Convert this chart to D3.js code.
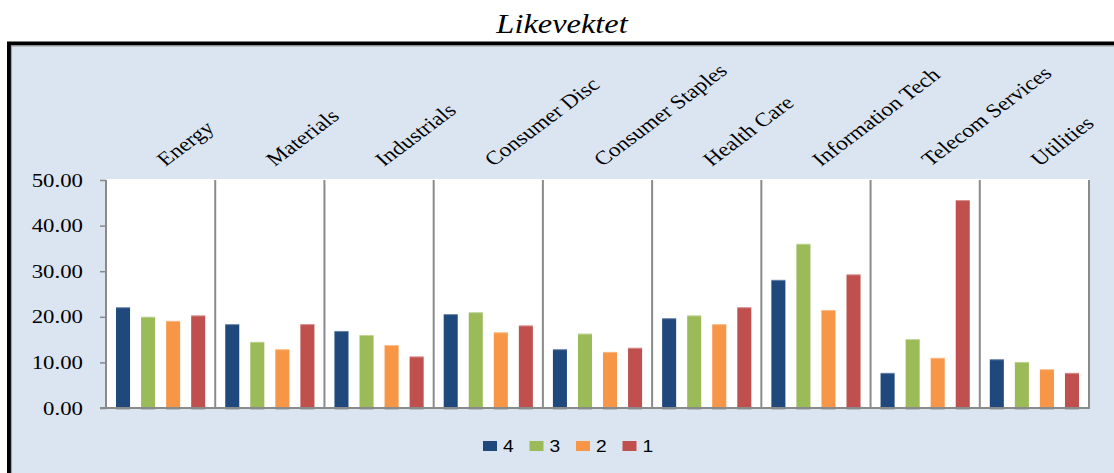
<!DOCTYPE html>
<html>
<head>
<meta charset="utf-8">
<script src="https://cdn.jsdelivr.net/npm/d3@7"></script>
<style>
  html, body { margin: 0; padding: 0; background: #ffffff; }
  svg { display: block; }
</style>
</head>
<body>
<svg id="chart" width="1114" height="473"></svg>
<script>
// Sector groups along the x axis
const categories = ["Energy", "Materials", "Industrials", "Consumer Disc", "Consumer Staples",
                    "Health Care", "Information Tech", "Telecom Services", "Utilities"];
// Series names, in legend order
const seriesNames = ["4", "3", "2", "1"];
const seriesColors = ["#1F497D", "#9BBB59", "#F79646", "#C0504D"];
// Values per series, one per sector
const series4 = [22.1, 18.4, 16.9, 20.6, 12.9, 19.7, 28.1, 7.7, 10.7];
const series3 = [20.0, 14.5, 16.0, 21.0, 16.3, 20.3, 36.0, 15.1, 10.1];
const series2 = [19.1, 12.9, 13.8, 16.6, 12.3, 18.4, 21.5, 11.0, 8.5];
const series1 = [20.3, 18.4, 11.3, 18.1, 13.2, 22.1, 29.3, 45.6, 7.7];
const yTicks = [0, 10, 20, 30, 40, 50];
const title = "Likevektet";

const seriesValues = [series4, series3, series2, series1];
const rows = categories.map((c, i) => ({
  category: c,
  values: seriesNames.map((s, k) => ({ key: s, color: seriesColors[k], value: seriesValues[k][i] }))
}));

const svg = d3.select("#chart");
const sx = 1.2; // horizontal stretch applied to text

// Outer frame and panel background
svg.append("rect").attr("x", 9).attr("y", 43.5).attr("width", 1130).attr("height", 460)
  .attr("fill", "#DBE5F1").attr("stroke", "#000").attr("stroke-width", 4);
svg.append("rect").attr("x", 11.5).attr("y", 46).attr("width", 1125).attr("height", 455)
  .attr("fill", "none").attr("stroke", "#A6A6A6").attr("stroke-width", 1.2);

// Title
svg.append("text")
  .attr("transform", `translate(562,33) scale(${sx},1)`)
  .attr("text-anchor", "middle")
  .style("font-family", "'Liberation Serif','Times New Roman',serif")
  .style("font-style", "italic")
  .style("font-size", "27px")
  .attr("fill", "#000")
  .text(title);

const plot = { left: 106, right: 1089, top: 180, bottom: 408 };

const x0 = d3.scaleBand().domain(categories).range([plot.left, plot.right]).padding(0);
const x1 = d3.scaleBand().domain(seriesNames).range([0, x0.bandwidth()])
  .paddingInner(0.44).paddingOuter(0.4);
const y = d3.scaleLinear().domain([0, 50]).range([plot.bottom, plot.top]);

// Plot area
svg.append("rect").attr("x", plot.left).attr("y", plot.top - 1)
  .attr("width", plot.right - plot.left).attr("height", plot.bottom - plot.top + 1)
  .attr("fill", "#ffffff");

// Bars
const groups = svg.append("g").selectAll("g").data(rows).join("g")
  .attr("transform", d => `translate(${x0(d.category)},0)`);

groups.selectAll("rect.shadow").data(d => d.values).join("rect")
  .attr("class", "shadow")
  .attr("x", d => x1(d.key)).attr("y", plot.bottom - 2)
  .attr("width", x1.bandwidth()).attr("height", 4)
  .attr("fill", "#8c8c9c").attr("opacity", 0.45);

groups.selectAll("rect.bar").data(d => d.values).join("rect")
  .attr("class", "bar")
  .attr("x", d => x1(d.key)).attr("y", d => y(d.value))
  .attr("width", x1.bandwidth()).attr("height", d => y(0) - y(d.value))
  .attr("fill", d => d.color);

groups.selectAll("line.hl").data(d => d.values).join("line")
  .attr("class", "hl")
  .attr("x1", d => x1(d.key)).attr("x2", d => x1(d.key) + x1.bandwidth())
  .attr("y1", d => y(d.value) + 0.5).attr("y2", d => y(d.value) + 0.5)
  .attr("stroke", "#ffffff").attr("stroke-opacity", 0.35).attr("stroke-width", 1);

// Category separators
const seps = categories.map(c => x0(c)).concat([plot.right]);
svg.append("g").selectAll("line").data(seps).join("line")
  .attr("x1", d => d).attr("x2", d => d)
  .attr("y1", plot.top).attr("y2", plot.bottom)
  .attr("stroke", "#8A8A8A").attr("stroke-width", 2);

// Y axis
const yAxis = d3.axisLeft(y).tickValues(yTicks).tickFormat(d3.format(".2f"))
  .tickSize(6).tickSizeOuter(0).tickPadding(0);
const yg = svg.append("g").attr("transform", `translate(${plot.left},0)`).call(yAxis);
yg.select(".domain").remove();
yg.selectAll(".tick line").attr("stroke", "#8A8A8A").attr("stroke-width", 1.5);
yg.selectAll(".tick text").attr("x", 0).attr("dy", 0)
  .attr("text-anchor", "end")
  .attr("transform", `translate(-23,6) scale(${sx},1)`)
  .style("font-family", "'Liberation Serif','Times New Roman',serif")
  .style("font-size", "19px")
  .attr("fill", "#000");

// Baseline
svg.append("line").attr("x1", plot.left - 6).attr("x2", plot.right + 1)
  .attr("y1", plot.bottom).attr("y2", plot.bottom)
  .attr("stroke", "#8A8A8A").attr("stroke-width", 2);

// Rotated category labels above the plot
svg.append("g").selectAll("text").data(categories).join("text")
  .attr("transform", d => `translate(${x0(d) + x0.bandwidth() / 2 + 5},167) scale(${sx},1) rotate(-42)`)
  .style("font-family", "'Liberation Serif','Times New Roman',serif")
  .style("font-size", "19.5px")
  .attr("fill", "#000")
  .text(d => d);

// Legend
const legend = svg.append("g").attr("transform", "translate(483,441)");
const li = legend.selectAll("g").data(seriesNames).join("g")
  .attr("transform", (d, i) => `translate(${i * 46.5},0)`);
li.append("rect").attr("width", 14).attr("height", 10)
  .attr("fill", (d, i) => seriesColors[i]);
li.append("text")
  .attr("transform", `translate(20,11) scale(${sx},1)`)
  .style("font-family", "'Liberation Sans',Arial,sans-serif")
  .style("font-size", "16px")
  .attr("fill", "#000")
  .text(d => d);
</script>
</body>
</html>
